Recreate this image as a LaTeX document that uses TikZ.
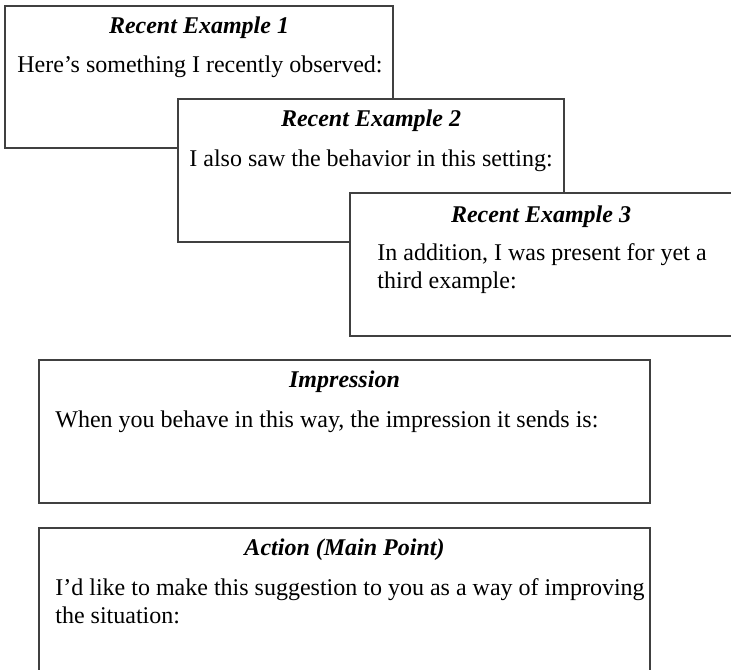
\documentclass[tikz,border=0pt]{standalone}
\usepackage{fontspec}
\setmainfont{Liberation Serif}
\begin{document}
\begin{tikzpicture}[x=0.5pt,y=-0.5pt,
    card/.style={draw=black!75,line width=0.8pt,fill=white},
    heading/.style={anchor=base,inner sep=0pt,font=\fontsize{12}{14}\selectfont\bfseries\itshape},
    body/.style={anchor=base west,align=left,inner sep=0pt,font=\fontsize{12}{14}\selectfont}]
    \useasboundingbox (0,0) rectangle (731,669);
    % three overlapping example cards
    \draw[card] (5,6) rectangle (393,148);
    \node[heading] (ex1title) at (199,33) {Recent Example 1};
    \node[body] (ex1text) at (17,72) {Here’s something I recently observed:};
    \draw[card] (178,99) rectangle (564,242);
    \node[heading] (ex2title) at (371,126) {Recent Example 2};
    \node[body] (ex2text) at (189,166) {I also saw the behavior in this setting:};
    \draw[card] (350,193) rectangle (733,336);
    \node[heading] (ex3title) at (541,222) {Recent Example 3};
    % base of a two-line node sits on its last line
    \node[body] (ex3text) at (377,288) {In addition, I was present for yet a\\third example:};
    % impression and action
    \draw[card] (39,360) rectangle (650,503);
    \node[heading] (imptitle) at (344.5,387) {Impression};
    \node[body] (imptext) at (55,427) {When you behave in this way, the impression it sends is:};
    \draw[card] (39,528) rectangle (650,685);
    \node[heading] (acttitle) at (344.5,555) {Action (Main Point)};
    \node[body] (acttext) at (55,623) {I’d like to make this suggestion to you as a way of improving\\the situation:};
  \end{tikzpicture}
\end{document}
